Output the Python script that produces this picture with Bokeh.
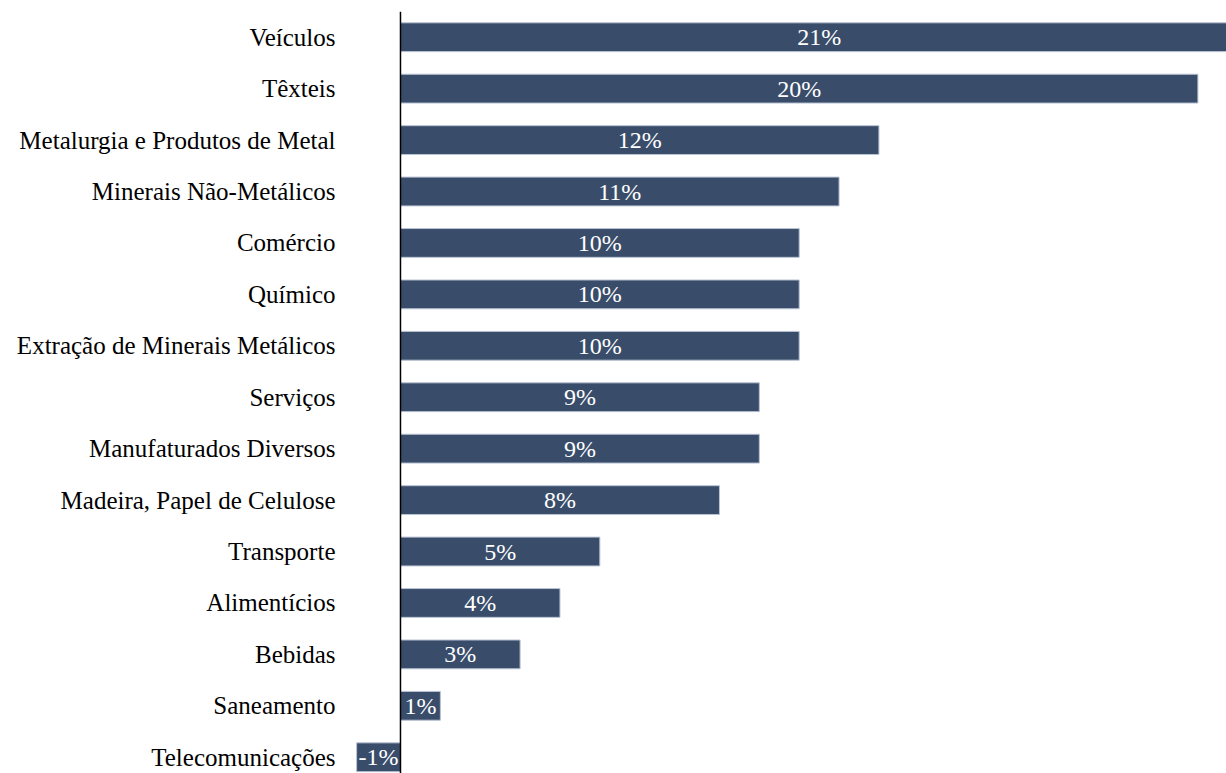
from bokeh.plotting import figure
from bokeh.models import ColumnDataSource, Range1d, FixedTicker, Span, LabelSet
from bokeh.embed import file_html
from bokeh.resources import INLINE

categories = ["Veículos", "Têxteis", "Metalurgia e Produtos de Metal", "Minerais Não-Metálicos",
              "Comércio", "Químico", "Extração de Minerais Metálicos", "Serviços",
              "Manufaturados Diversos", "Madeira, Papel de Celulose", "Transporte",
              "Alimentícios", "Bebidas", "Saneamento", "Telecomunicações"]
values = [21.0, 20.0, 12.0, 11.0, 10.0, 10.0, 10.0, 9.0, 9.0, 8.0, 5.0, 4.0, 3.0, 1.0, -1.1]
labels = ["21%", "20%", "12%", "11%", "10%", "10%", "10%", "9%", "9%", "8%", "5%", "4%", "3%", "1%", "-1%"]

pos = list(range(len(categories)))
src = ColumnDataSource(dict(y=pos, v=values, mid=[v / 2 for v in values], lab=labels))

FONT = "Liberation Serif"

p = figure(width=1226, height=773, output_backend="svg", toolbar_location=None,
           x_range=Range1d(-1.379, 20.717), y_range=Range1d(14.316, -0.5),
           min_border_left=345, min_border_right=0, min_border_top=11, min_border_bottom=0)
p.outline_line_color = None
p.grid.visible = False
p.xaxis.visible = False

p.hbar(y="y", left=0, right="v", height=0.56, source=src,
       fill_color="#394d6b", line_color="#b9c3d3", line_width=1)

zero = Span(location=0, dimension="height", line_color="black", line_width=1.5)
p.add_layout(zero)

lbl = LabelSet(x="mid", y="y", text="lab", source=src, text_align="center",
               text_baseline="middle", text_color="white", text_font=FONT,
               text_font_size="24px")
p.add_layout(lbl)

ya = p.yaxis[0]
ya.ticker = FixedTicker(ticks=pos)
ya.major_label_overrides = {i: c for i, c in zip(pos, categories)}
ya.axis_line_color = None
ya.major_tick_line_color = None
ya.major_tick_out = 0
ya.major_tick_in = 0
ya.minor_tick_line_color = None
ya.major_label_standoff = 10
ya.major_label_text_font = FONT
ya.major_label_text_font_size = "25px"
ya.major_label_text_color = "black"

open("out.html", "w").write(file_html(p, INLINE))
